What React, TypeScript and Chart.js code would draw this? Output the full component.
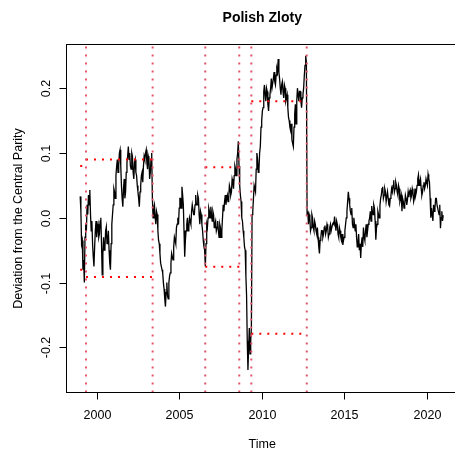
import React, { useEffect, useRef } from "react";
import { Chart, registerables } from "chart.js";

Chart.register(...registerables);

// ---------------- data (monthly, starting January 1999) ----------------
const START_YEAR = 1999;
const PER_YEAR = 12;

// value at the start of each month
const dev1999to2003 = [
  0.033, -0.04, -0.08, -0.1, -0.01, 0.02, 0.035, 0.043, -0.02, -0.04, -0.075, -0.02,
  -0.03, -0.01, -0.025, 0.0, -0.088, -0.03, -0.045, -0.014, -0.035, -0.05, -0.08, -0.01,
  0.02, 0.04, 0.065, 0.09, 0.08, 0.105, 0.05, 0.017, 0.06, 0.04, 0.085, 0.11,
  0.1, 0.075, 0.095, 0.06, 0.09, 0.065, 0.04, 0.017, 0.05, 0.07, 0.08, 0.09,
  0.105, 0.075, 0.09, 0.07, 0.1, 0.0, 0.02, -0.01, 0.005, -0.035, -0.055, -0.075,
];
const dev2004to2008 = [
  -0.085, -0.11, -0.137, -0.1, -0.125, -0.09, -0.07, -0.06, -0.045, -0.035, -0.015, 0.0,
  0.015, 0.03, 0.048, 0.02, -0.06, -0.02, 0.0, -0.015, -0.005, 0.01, 0.02, 0.005,
  0.035, 0.02, 0.03, -0.01, 0.005, -0.02, -0.045, -0.075, -0.01, 0.0, 0.01, 0.017,
  -0.005, 0.005, -0.01, -0.02, -0.005, -0.03, -0.015, -0.02, 0.02, 0.025, 0.02, 0.035,
  0.03, 0.045, 0.04, 0.055, 0.065, 0.075, 0.09, 0.118, 0.05, 0.025, -0.005, -0.03,
];
const dev2009to2012 = [
  -0.05, -0.12, -0.235, -0.17, -0.19, 0.005, 0.03, 0.05, 0.075, 0.09, 0.075, 0.11,
  0.15, 0.17, 0.205, 0.18, 0.195, 0.165, 0.19, 0.215, 0.2, 0.225, 0.205, 0.23,
  0.245, 0.215, 0.19, 0.21, 0.185, 0.2, 0.185, 0.17, 0.15, 0.135, 0.12, 0.11,
  0.16, 0.145, 0.2, 0.18, 0.195, 0.17, 0.19, 0.22, 0.25, 0.005, -0.01, 0.0,
];
const dev2013to2016 = [
  -0.015, 0.0, -0.02, -0.01, -0.025, -0.03, -0.055, -0.03, -0.02, -0.025, -0.012, -0.02,
  -0.015, -0.025, -0.01, -0.02, -0.008, 0.002, -0.02, -0.01, -0.03, -0.02, -0.035, -0.042,
  -0.03, -0.01, 0.01, 0.04, 0.02, 0.005, -0.01, 0.0, -0.02, -0.03, -0.04, -0.05,
  -0.062, -0.03, -0.015, -0.035, -0.01, -0.02, -0.005, 0.01, 0.018, 0.005, 0.015, -0.034,
];
const dev2017to2021 = [
  -0.01, 0.005, 0.019, 0.035, 0.048, 0.035, 0.04, 0.025, 0.03, 0.018, 0.035, 0.04,
  0.058, 0.045, 0.05, 0.035, 0.045, 0.03, 0.01, 0.025, 0.02, 0.03, 0.028, 0.032,
  0.043, 0.034, 0.04, 0.03, 0.035, 0.05, 0.066, 0.055, 0.045, 0.04, 0.055, 0.05,
  0.06, 0.067, 0.055, 0.0, 0.005, 0.02, 0.015, 0.03, 0.02, 0.005, -0.016, 0.01,
  0.004,
];

// value in the middle of each month
const mid1999to2003 = [
  0.01, -0.035, -0.065, -0.03, -0.02, 0.005, 0.02, 0.005, -0.005, -0.06, -0.045, -0.005,
  -0.015, -0.03, -0.005, -0.04, -0.055, -0.05, -0.02, -0.04, -0.02, -0.07, -0.04, 0.005,
  0.045, 0.03, 0.08, 0.07, 0.1, 0.08, 0.03, 0.045, 0.03, 0.07, 0.095, 0.09,
  0.08, 0.1, 0.07, 0.085, 0.07, 0.05, 0.03, 0.04, 0.065, 0.055, 0.095, 0.1,
  0.085, 0.095, 0.06, 0.09, 0.03, 0.015, 0.0, 0.01, -0.02, -0.04, -0.07, -0.08,
];
const mid2004to2008 = [
  -0.1, -0.125, -0.115, -0.12, -0.1, -0.085, -0.055, -0.065, -0.03, -0.04, -0.01, -0.01,
  0.03, 0.015, 0.035, -0.02, -0.035, -0.01, -0.02, 0.0, -0.01, 0.02, 0.005, 0.02,
  0.02, 0.035, 0.005, 0.01, -0.01, -0.035, -0.05, -0.04, -0.015, 0.015, 0.0, 0.005,
  0.01, -0.015, -0.005, -0.015, -0.02, -0.01, -0.03, 0.0, 0.01, 0.035, 0.03, 0.025,
  0.05, 0.035, 0.06, 0.045, 0.08, 0.065, 0.1, 0.08, 0.035, 0.0, -0.02, -0.045,
];
const mid2009to2012 = [
  -0.09, -0.19, -0.2, -0.21, -0.17, 0.01, 0.05, 0.04, 0.1, 0.07, 0.1, 0.14,
  0.165, 0.195, 0.19, 0.2, 0.175, 0.185, 0.2, 0.2, 0.215, 0.21, 0.22, 0.225,
  0.225, 0.2, 0.205, 0.195, 0.205, 0.18, 0.19, 0.155, 0.14, 0.145, 0.115, 0.14,
  0.175, 0.18, 0.19, 0.195, 0.18, 0.185, 0.2, 0.235, 0.24, 0.01, 0.005, -0.02,
];
const mid2013to2016 = [
  0.005, -0.015, -0.005, -0.02, -0.015, -0.045, -0.035, -0.02, -0.03, -0.015, -0.025, -0.01,
  -0.03, -0.015, -0.02, -0.01, -0.01, -0.01, -0.005, -0.025, -0.015, -0.03, -0.025, -0.035,
  -0.02, 0.0, 0.025, 0.03, 0.01, 0.015, -0.015, -0.01, -0.01, -0.045, -0.025, -0.04,
  -0.04, -0.045, -0.03, -0.02, -0.03, -0.01, 0.0, -0.005, 0.01, 0.02, -0.005, -0.015,
];
const mid2017to2020 = [
  0.01, 0.0, 0.03, 0.045, 0.03, 0.045, 0.025, 0.04, 0.02, 0.03, 0.045, 0.05,
  0.04, 0.055, 0.04, 0.05, 0.025, 0.035, 0.03, 0.015, 0.035, 0.02, 0.04, 0.04,
  0.03, 0.045, 0.025, 0.045, 0.04, 0.06, 0.05, 0.06, 0.035, 0.05, 0.045, 0.06,
  0.05, 0.06, 0.03, 0.015, -0.005, 0.01, 0.03, 0.02, 0.01, 0.02, 0.0, -0.005,
];

// structural breaks (vertical dotted lines)
const breakYears = [1999.35, 2003.39, 2006.58, 2008.64, 2009.37, 2012.73];

// fluctuation bands (horizontal dotted segments)
const bandFrom = [1999.0, 1999.35, 2006.58, 2009.37];
const bandTo = [1999.35, 2003.39, 2008.64, 2012.73];
const bandUpper = [0.08, 0.09, 0.078, 0.18];
const bandLower = [-0.08, -0.0915, -0.0755, -0.179];

// axis ticks
const xTicks = [2000, 2005, 2010, 2015, 2020];
const yTicks = [-0.2, -0.1, 0.0, 0.1, 0.2];
const yTickLabels = ["-0.2", "-0.1", "0.0", "0.1", "0.2"];

const TITLE = "Polish Zloty";
const X_LABEL = "Time";
const Y_LABEL = "Deviation from the Central Parity";

// ---------------- layout ----------------
const W = 475;
const H = 454;
const FONT = '"Liberation Sans", Arial, Helvetica, sans-serif';

const monthStart = [
  ...dev1999to2003,
  ...dev2004to2008,
  ...dev2009to2012,
  ...dev2013to2016,
  ...dev2017to2021,
];
const monthMid = [
  ...mid1999to2003,
  ...mid2004to2008,
  ...mid2009to2012,
  ...mid2013to2016,
  ...mid2017to2020,
];

const rPlotPlugin = {
  id: "rPlot",
  afterDatasetsDraw(chart: any) {
    const { ctx, chartArea: a, scales } = chart;
    const xs = scales.x;
    ctx.save();
    ctx.beginPath();
    ctx.rect(a.left, a.top, a.right - a.left, a.bottom - a.top);
    ctx.clip();
    ctx.strokeStyle = "#DF536B";
    ctx.lineWidth = 2;
    ctx.lineCap = "butt";
    ctx.setLineDash([2, 6]);
    for (const yr of breakYears) {
      const px = xs.getPixelForValue(yr);
      ctx.beginPath();
      ctx.moveTo(px, a.bottom);
      ctx.lineTo(px, a.top);
      ctx.stroke();
    }
    ctx.restore();
  },
  afterDraw(chart: any) {
    const { ctx, chartArea: a, scales } = chart;
    const xs = scales.x;
    const ys = scales.y;
    ctx.save();
    ctx.setLineDash([]);
    ctx.strokeStyle = "#000";
    ctx.lineWidth = 1;
    ctx.strokeRect(a.left, a.top, a.right - a.left, a.bottom - a.top);

    ctx.fillStyle = "#000";
    ctx.font = `12.5px ${FONT}`;
    ctx.textAlign = "center";
    ctx.textBaseline = "alphabetic";
    for (const t of xTicks) {
      const px = Math.round(xs.getPixelForValue(t)) + 0.5;
      ctx.beginPath();
      ctx.moveTo(px, a.bottom);
      ctx.lineTo(px, a.bottom + 7);
      ctx.stroke();
      ctx.fillText(String(t), px, 418.5);
    }
    yTicks.forEach((t, i) => {
      const py = Math.round(ys.getPixelForValue(t)) + 0.5;
      ctx.beginPath();
      ctx.moveTo(a.left - 7, py);
      ctx.lineTo(a.left, py);
      ctx.stroke();
      ctx.save();
      ctx.translate(50, py);
      ctx.rotate(-Math.PI / 2);
      ctx.fillText(yTickLabels[i], 0, 0);
      ctx.restore();
    });
    const cx = (a.left + a.right) / 2;
    ctx.fillText(X_LABEL, cx, 447.5);
    ctx.save();
    ctx.translate(21.5, (a.top + a.bottom) / 2);
    ctx.rotate(-Math.PI / 2);
    ctx.fillText(Y_LABEL, 0, 0);
    ctx.restore();
    ctx.font = `bold 14px ${FONT}`;
    ctx.fillText(TITLE, cx, 22);
    ctx.restore();
  },
};

export default function App() {
  const ref = useRef<HTMLCanvasElement>(null);

  useEffect(() => {
    const canvas = ref.current;
    if (!canvas) return;

    const seriesData: { x: number; y: number }[] = [];
    monthStart.forEach((v, i) => {
      seriesData.push({ x: START_YEAR + i / PER_YEAR, y: v });
      if (i < monthMid.length) {
        seriesData.push({ x: START_YEAR + (i + 0.5) / PER_YEAR, y: monthMid[i] });
      }
    });

    const bandDatasets: any[] = [];
    bandFrom.forEach((from, i) => {
      [bandUpper[i], bandLower[i]].forEach((lvl) => {
        bandDatasets.push({
          data: [
            { x: from, y: lvl },
            { x: bandTo[i], y: lvl },
          ],
          borderColor: "#FF0000",
          borderWidth: 2,
          borderDash: [2, 6],
          borderCapStyle: "butt",
          pointRadius: 0,
          fill: false,
        });
      });
    });

    const chart = new Chart(canvas, {
      type: "line",
      data: {
        datasets: [
          ...bandDatasets,
          {
            data: seriesData,
            borderColor: "#000000",
            borderWidth: 1.3,
            pointRadius: 0,
            tension: 0,
            fill: false,
          },
        ],
      },
      options: {
        responsive: false,
        animation: false,
        devicePixelRatio: 1,
        events: [],
        layout: {
          padding: { left: 66.5, top: 44.5, right: W - 458, bottom: H - 392.5 },
        },
        plugins: {
          legend: { display: false },
          tooltip: { enabled: false },
          title: { display: false },
        },
        scales: {
          x: { type: "linear", min: 1998.17, max: 2021.897, display: false },
          y: { type: "linear", min: -0.2696, max: 0.2674, display: false },
        },
      },
      plugins: [rPlotPlugin],
    });

    return () => chart.destroy();
  }, []);

  return (
    <div
      style={{
        position: "fixed",
        left: 0,
        top: 0,
        width: W,
        height: H,
        background: "#ffffff",
        overflow: "hidden",
      }}
    >
      <canvas ref={ref} width={W} height={H} style={{ width: W, height: H, display: "block" }} />
    </div>
  );
}
